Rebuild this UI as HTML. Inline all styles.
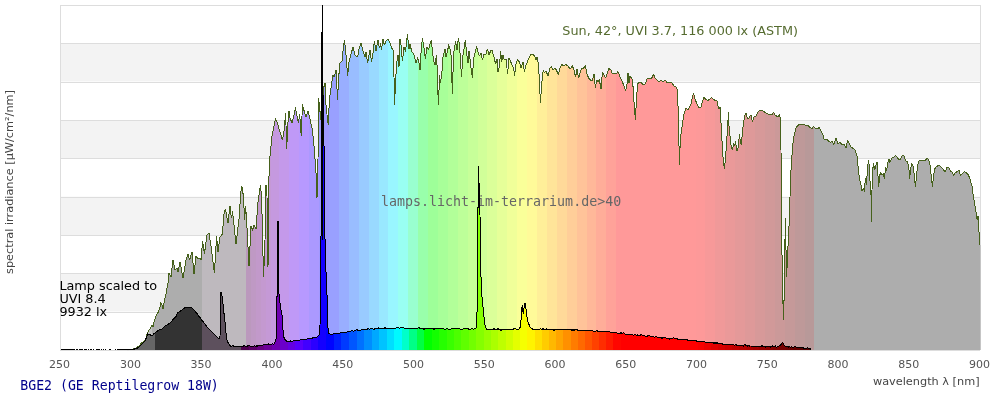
<!DOCTYPE html>
<html><head><meta charset="utf-8"><title>BGE2 (GE Reptilegrow 18W)</title>
<style>html,body{margin:0;padding:0;background:#fff;width:1000px;height:400px;overflow:hidden;}svg{display:block;will-change:transform;}</style></head>
<body>
<svg width="1000" height="400" viewBox="0 0 1000 400">
<rect x="60" y="5.00" width="920" height="38.33" fill="#ffffff"/>
<rect x="60" y="43.33" width="920" height="38.33" fill="#f3f3f3"/>
<rect x="60" y="81.67" width="920" height="38.33" fill="#ffffff"/>
<rect x="60" y="120.00" width="920" height="38.33" fill="#f3f3f3"/>
<rect x="60" y="158.33" width="920" height="38.33" fill="#ffffff"/>
<rect x="60" y="196.67" width="920" height="38.33" fill="#f3f3f3"/>
<rect x="60" y="235.00" width="920" height="38.33" fill="#ffffff"/>
<rect x="60" y="273.33" width="920" height="38.33" fill="#f3f3f3"/>
<rect x="60" y="311.67" width="920" height="38.33" fill="#ffffff"/>
<line x1="60" y1="5.5" x2="980" y2="5.5" stroke="#dddddd" stroke-width="1"/>
<line x1="60" y1="43.5" x2="980" y2="43.5" stroke="#dddddd" stroke-width="1"/>
<line x1="60" y1="82.5" x2="980" y2="82.5" stroke="#dddddd" stroke-width="1"/>
<line x1="60" y1="120.5" x2="980" y2="120.5" stroke="#dddddd" stroke-width="1"/>
<line x1="60" y1="158.5" x2="980" y2="158.5" stroke="#dddddd" stroke-width="1"/>
<line x1="60" y1="197.5" x2="980" y2="197.5" stroke="#dddddd" stroke-width="1"/>
<line x1="60" y1="235.5" x2="980" y2="235.5" stroke="#dddddd" stroke-width="1"/>
<line x1="60" y1="273.5" x2="980" y2="273.5" stroke="#dddddd" stroke-width="1"/>
<line x1="60" y1="312.5" x2="980" y2="312.5" stroke="#dddddd" stroke-width="1"/>
<line x1="60" y1="350.5" x2="980" y2="350.5" stroke="#dddddd" stroke-width="1"/>
<line x1="60.5" y1="5" x2="60.5" y2="350" stroke="#dddddd"/>
<line x1="980.5" y1="5" x2="980.5" y2="350" stroke="#dddddd"/>
<defs>
<clipPath id="cs"><polygon points="131.0,350.0 131.0,349.5 136.0,348.0 140.0,345.6 141.2,343.0 143.8,341.9 145.6,340.0 146.9,334.4 148.8,330.6 150.6,328.0 151.9,325.0 153.0,326.9 153.8,323.0 155.0,318.8 156.2,315.6 158.0,312.5 160.0,307.5 160.6,302.5 161.9,305.0 163.0,309.0 164.4,301.0 166.0,294.0 168.0,283.0 169.0,273.0 171.0,277.0 173.0,260.0 175.0,270.0 177.0,268.0 178.0,272.0 180.0,262.0 183.0,278.0 186.0,260.0 188.0,254.0 189.6,260.0 192.0,252.0 194.0,274.0 196.0,256.0 198.0,259.0 200.0,258.0 201.0,260.0 202.6,241.0 204.4,254.0 207.0,235.0 209.0,233.0 211.0,246.0 214.4,273.0 216.6,236.0 218.0,252.0 220.0,237.0 222.4,234.0 224.0,214.0 225.4,209.0 228.0,223.0 230.0,206.0 231.4,218.0 232.6,212.0 236.0,244.0 239.0,219.0 240.4,198.0 241.4,186.0 242.6,189.0 243.6,200.0 244.6,220.0 245.6,206.0 247.0,228.0 249.0,266.0 251.0,226.0 252.6,230.0 254.0,225.0 256.0,229.0 258.0,202.0 259.4,192.0 260.4,185.0 261.6,196.0 262.6,240.0 263.6,277.0 265.0,240.0 266.0,185.0 267.0,196.0 268.0,267.0 269.0,176.0 270.0,156.0 272.0,136.0 274.0,126.0 275.5,119.0 276.5,121.0 278.0,125.0 280.0,132.0 281.0,135.0 282.4,140.0 283.5,135.0 284.5,127.0 285.5,114.0 286.0,125.0 286.6,149.0 287.4,135.0 288.2,118.0 289.0,111.0 290.0,118.0 292.0,123.0 294.0,115.0 295.5,108.0 297.0,116.0 298.5,123.0 299.5,115.0 300.5,123.0 301.2,136.0 301.8,120.0 302.5,105.0 304.4,112.0 306.0,117.0 308.0,111.0 310.0,119.0 312.4,130.0 314.4,150.0 316.0,173.0 317.0,198.0 318.0,160.0 318.6,98.0 319.6,108.0 321.0,120.0 322.0,112.0 323.6,88.0 325.0,83.0 326.0,105.0 327.5,119.0 328.2,125.0 329.0,108.0 330.0,95.0 331.0,88.0 333.0,75.0 334.4,77.0 336.0,70.0 337.6,100.0 338.4,80.0 340.0,63.0 342.0,61.0 343.0,51.0 344.4,40.6 345.6,49.0 347.6,76.0 349.0,62.0 351.0,54.0 353.0,47.0 355.0,55.0 357.6,57.0 359.4,47.0 361.0,43.4 363.0,51.0 365.0,57.0 366.0,52.0 367.6,63.0 369.0,55.0 370.0,50.0 371.6,62.0 373.0,53.0 374.4,41.0 376.0,51.0 378.0,40.0 379.4,48.0 380.6,44.0 381.4,50.0 383.0,39.4 384.4,45.0 386.0,41.0 388.0,39.0 390.0,43.0 391.6,48.0 393.0,50.0 394.0,77.0 394.6,105.0 395.6,79.0 397.0,61.0 398.0,55.0 399.0,67.0 400.0,39.0 401.0,45.0 402.4,61.0 404.0,47.0 405.6,51.0 407.4,34.0 409.0,49.0 410.0,44.0 411.6,51.0 414.0,55.0 416.0,63.0 417.6,58.0 419.0,63.0 420.0,70.0 421.0,53.0 422.4,38.0 424.0,48.0 425.4,59.0 427.0,47.0 428.4,50.0 430.0,44.0 431.2,40.0 432.4,51.0 433.6,61.0 435.0,65.0 436.4,55.0 437.4,71.0 438.0,95.0 438.6,105.0 439.4,75.0 440.6,83.0 442.0,71.0 443.0,57.0 445.0,49.0 446.0,57.0 447.6,51.0 448.6,45.0 450.0,49.0 451.0,55.0 452.4,94.0 453.2,65.0 454.0,51.0 455.6,42.0 457.0,50.0 458.4,38.0 459.6,45.0 460.6,63.0 461.6,77.0 462.6,57.0 464.0,49.0 465.4,40.0 466.4,51.0 468.0,63.0 469.0,51.0 470.0,59.0 471.0,68.0 472.4,78.0 473.6,59.0 475.0,53.0 476.6,47.0 478.0,52.0 479.4,56.0 481.0,53.0 482.4,60.0 484.0,54.0 485.6,55.0 487.4,49.0 489.0,55.0 490.6,51.0 492.0,50.0 494.0,57.0 495.6,64.0 497.0,59.0 498.0,72.0 499.4,67.0 500.6,51.0 501.6,62.0 503.0,55.0 504.4,60.0 506.0,59.0 507.6,74.0 509.0,58.0 510.4,61.0 512.0,65.0 513.6,68.0 514.6,76.0 516.0,64.0 517.6,59.4 519.4,62.0 521.0,68.0 523.0,62.0 524.4,72.0 526.0,65.0 529.0,58.0 531.0,54.0 533.0,54.0 535.0,57.0 536.0,60.0 537.0,57.0 538.4,64.0 539.4,80.0 540.4,103.0 541.4,88.0 542.4,76.0 543.4,70.0 544.4,73.0 546.0,71.0 548.0,76.0 550.0,68.0 551.6,67.0 553.0,70.0 555.0,68.0 556.4,70.0 558.4,75.0 560.0,68.0 561.6,64.4 563.6,66.0 565.6,64.4 568.0,66.0 570.0,69.0 572.4,66.0 574.0,70.0 575.6,77.0 577.0,69.0 578.6,78.0 580.0,73.0 581.6,68.0 583.6,68.0 585.4,66.0 587.0,74.0 588.6,78.0 590.6,80.0 592.4,81.0 594.0,74.0 595.4,88.0 596.6,80.0 598.0,82.0 599.4,80.0 601.0,89.0 602.4,72.0 604.0,75.0 605.6,78.0 607.0,74.0 609.0,68.6 611.0,70.0 612.4,74.0 614.0,73.0 616.0,74.0 618.0,71.6 620.0,77.0 622.0,81.0 624.0,86.0 625.6,91.0 627.0,84.0 628.0,73.0 629.0,83.0 630.0,76.0 631.4,78.0 632.6,80.0 633.6,96.0 634.4,108.0 635.4,120.0 636.4,100.0 637.6,84.0 639.0,82.4 641.0,82.0 643.0,85.0 645.0,84.4 647.0,79.0 649.0,78.0 651.0,79.0 652.4,77.0 653.4,74.0 655.0,78.0 657.0,80.0 659.0,82.0 661.0,80.0 663.0,82.0 665.0,80.0 667.0,82.4 670.0,82.4 672.0,83.0 674.0,86.0 676.0,87.0 677.4,90.0 678.0,106.0 678.6,120.0 679.0,146.0 679.6,165.0 680.0,148.0 681.0,134.0 682.4,124.0 684.0,114.0 686.0,108.0 687.6,110.0 689.6,107.0 691.0,104.0 692.4,97.0 693.6,93.6 695.0,99.0 697.0,104.0 699.0,107.6 701.0,107.0 702.4,102.0 704.0,97.6 706.0,99.6 708.0,100.4 710.0,99.0 711.6,97.4 713.0,99.0 715.0,100.4 717.0,101.0 718.0,106.0 719.0,109.0 720.0,107.0 720.6,116.0 721.4,130.0 722.4,148.0 723.4,162.0 724.4,169.0 725.4,160.0 726.4,146.0 727.4,130.0 728.0,120.0 728.4,112.0 729.0,126.0 730.0,136.0 731.0,145.0 732.4,150.0 733.6,144.0 734.6,146.0 735.6,142.0 737.0,151.0 738.4,147.0 739.4,134.0 740.4,142.0 741.4,145.0 742.4,132.0 743.6,122.0 745.0,115.0 746.0,113.0 747.0,117.0 748.4,119.0 750.0,116.0 751.0,115.0 752.4,122.0 754.0,117.0 756.0,116.0 758.0,112.0 760.0,110.0 762.0,110.4 764.0,111.6 766.0,113.0 768.0,114.0 770.0,115.0 772.0,114.4 773.6,112.4 775.0,115.0 776.4,116.0 778.0,117.0 779.4,114.4 780.4,118.0 781.0,150.0 781.3,196.0 781.5,254.0 782.6,256.0 782.8,295.0 783.4,320.0 784.2,295.0 784.8,250.0 785.4,218.0 786.0,250.0 786.8,277.0 787.3,256.0 787.5,254.0 788.8,233.0 789.5,208.0 790.3,190.0 791.0,170.0 792.4,150.0 793.4,138.0 795.0,132.0 796.4,127.0 798.4,125.0 801.0,124.0 804.0,124.4 806.0,126.0 808.0,125.6 810.0,127.6 812.0,128.4 813.6,126.4 815.0,128.0 817.0,129.0 819.0,127.6 821.0,131.0 823.0,135.0 824.4,140.0 826.4,139.0 828.4,141.0 830.4,142.4 832.4,141.6 834.0,144.4 836.0,137.6 838.0,143.6 840.0,142.4 842.0,144.4 844.0,144.0 846.0,147.6 847.6,140.4 849.4,143.6 851.0,147.0 853.0,148.4 855.0,150.0 857.0,156.0 858.0,166.0 859.4,178.0 861.0,185.0 862.0,191.0 863.4,188.0 864.4,192.0 865.4,178.0 866.4,185.0 867.4,170.0 868.4,160.0 869.4,166.0 870.4,190.0 871.2,196.0 872.0,190.0 872.6,170.0 873.6,164.0 874.6,170.0 875.6,167.0 877.0,161.6 878.0,176.0 878.6,187.0 879.6,176.0 880.6,172.4 882.0,175.0 883.6,174.0 884.4,179.0 885.6,167.0 886.6,171.0 888.0,162.0 889.0,159.0 890.0,162.4 892.0,158.0 894.0,157.0 895.6,155.6 897.6,158.0 899.6,160.0 901.0,158.0 902.4,155.6 904.0,155.6 905.6,161.0 907.6,162.0 909.0,170.0 909.6,179.0 910.6,169.0 911.6,164.0 913.0,166.0 914.0,173.0 915.4,187.0 916.4,178.0 917.4,166.0 919.0,161.0 921.0,160.4 923.0,161.0 925.0,160.4 927.0,158.6 928.4,159.0 930.0,165.0 931.0,174.0 932.4,187.0 933.6,176.0 934.6,169.0 936.0,167.0 938.0,165.6 940.0,166.0 942.0,168.0 943.6,170.0 945.0,172.0 947.0,167.6 949.0,168.0 950.4,171.0 952.0,172.0 953.6,175.6 955.0,173.0 957.0,171.6 959.0,170.0 960.4,175.6 962.0,174.0 964.4,171.4 966.4,173.0 968.4,175.0 970.0,179.0 972.0,186.0 973.6,198.0 975.0,206.0 976.0,211.6 977.2,220.0 978.0,216.0 978.9,229.6 979.8,245.0 980.5,245.0 980.5,350.0"/></clipPath>
<clipPath id="cl"><polygon points="120.0,350.0 120.0,349.5 121.0,349.6 122.0,349.5 123.0,348.9 124.0,349.6 125.0,349.5 126.0,349.0 127.0,349.4 128.0,350.2 129.0,349.3 130.0,349.5 131.0,349.5 132.0,349.5 133.0,349.3 134.0,350.0 135.0,348.0 136.0,348.5 137.0,348.5 140.0,346.0 145.0,341.0 147.0,336.0 147.5,334.0 149.4,334.4 152.0,336.0 153.8,333.8 156.2,332.0 158.8,330.0 160.0,329.2 161.2,329.2 162.5,328.8 165.0,326.2 167.0,325.0 170.0,323.0 173.8,318.8 176.2,316.2 177.5,313.0 181.2,310.6 184.4,308.0 185.4,307.1 186.5,307.5 187.5,307.2 190.0,307.5 192.0,308.0 195.0,311.0 198.0,315.0 204.0,323.0 208.0,328.0 212.0,332.0 216.0,336.0 219.0,339.0 220.0,336.0 220.6,310.0 221.0,292.0 222.4,298.0 223.6,310.0 225.0,322.0 226.0,333.0 227.0,340.0 228.4,343.5 230.0,345.6 231.0,346.3 232.0,345.9 233.0,345.5 234.0,346.7 235.0,346.6 236.0,346.8 237.0,347.0 238.0,346.7 239.0,346.7 240.0,346.0 241.0,346.6 242.0,346.6 243.0,346.5 244.0,345.4 245.0,346.0 246.0,346.4 247.0,346.3 248.0,345.7 249.0,345.5 250.0,346.1 251.0,346.1 252.0,346.0 253.0,346.6 254.0,345.9 255.0,345.8 256.0,346.5 257.0,345.7 258.0,346.2 259.0,344.8 260.0,345.5 261.0,345.4 262.0,345.3 263.0,345.2 264.0,344.6 265.0,344.9 266.0,344.3 267.0,344.6 268.0,343.8 269.0,344.2 270.0,344.4 271.0,345.1 272.0,343.7 273.0,344.1 274.0,344.0 275.8,341.0 276.5,334.0 276.5,296.0 277.5,296.0 277.5,221.0 278.5,221.0 278.5,288.0 279.5,300.0 281.0,310.0 282.5,317.0 283.0,330.0 283.6,336.0 284.4,339.0 287.0,341.6 288.0,341.5 289.0,341.4 290.0,341.3 291.0,340.7 292.0,341.9 293.0,341.0 294.0,340.9 295.0,340.5 296.0,340.3 297.0,340.9 298.0,340.3 299.0,340.5 300.0,340.0 301.0,339.9 302.0,339.7 303.0,339.6 304.0,339.4 305.0,339.3 306.0,339.1 307.0,339.0 308.0,337.9 309.0,338.7 310.0,338.6 311.0,338.4 312.0,338.6 313.0,337.4 314.0,338.0 315.0,337.6 316.0,337.2 317.0,337.0 319.0,335.0 320.0,325.0 320.4,300.0 320.6,267.0 320.9,245.0 321.5,200.0 321.5,32.0 322.5,32.0 322.5,5.5 322.5,90.0 323.5,100.0 323.9,130.0 324.4,200.0 325.1,245.0 325.8,267.0 326.8,290.0 327.6,310.0 328.0,328.0 329.0,333.6 331.0,334.6 332.0,334.5 333.0,334.1 334.0,333.8 335.0,334.0 336.0,332.8 337.0,333.6 338.0,333.1 339.0,333.5 340.0,333.0 341.0,331.9 342.0,332.7 343.0,333.0 344.0,332.3 345.0,332.5 346.0,332.2 347.0,332.0 348.0,331.9 349.0,331.7 350.0,331.6 351.0,330.8 352.0,330.7 353.0,331.1 354.0,331.0 355.0,330.8 356.0,330.2 357.0,329.6 358.0,330.3 359.0,330.2 360.0,330.0 361.0,330.1 362.0,329.8 363.0,329.7 364.0,329.6 365.0,329.5 366.0,329.4 367.0,329.3 368.0,328.6 369.0,329.1 370.0,329.0 371.0,328.6 372.0,328.1 373.0,328.8 374.0,329.6 375.0,328.7 376.0,328.6 377.0,328.8 378.0,328.3 379.0,327.8 380.0,328.4 381.0,328.4 382.0,328.4 383.0,328.9 384.0,328.3 385.0,327.6 386.0,328.3 387.0,328.3 388.0,328.2 389.0,328.4 390.0,328.2 391.0,328.2 392.0,328.9 393.0,328.1 394.0,328.5 395.0,328.1 396.0,328.1 397.0,327.9 398.0,327.0 399.0,328.0 400.0,328.0 401.0,327.2 402.0,328.0 403.0,327.1 404.0,328.1 405.0,328.1 406.0,328.7 407.0,328.2 408.0,328.3 409.0,328.3 410.0,328.4 411.0,328.4 412.0,328.4 413.0,329.2 414.0,328.5 415.0,328.2 416.0,328.3 417.0,328.5 418.0,328.1 419.0,327.6 420.0,328.6 421.0,329.0 422.0,328.6 423.0,328.6 424.0,329.4 425.0,328.7 426.0,328.7 427.0,328.7 428.0,328.2 429.0,328.7 430.0,328.7 431.0,328.2 432.0,328.7 433.0,328.7 434.0,329.2 435.0,328.8 436.0,328.8 437.0,328.2 438.0,328.5 439.0,328.8 440.0,328.8 441.0,328.8 442.0,328.8 443.0,328.8 444.0,328.8 445.0,329.4 446.0,328.9 447.0,328.9 448.0,328.9 449.0,329.4 450.0,329.7 451.0,328.9 452.0,328.9 453.0,328.9 454.0,328.3 455.0,328.9 456.0,329.0 457.0,328.8 458.0,329.0 459.0,328.9 460.0,329.0 461.0,329.0 462.0,329.0 463.0,329.0 464.0,328.2 465.0,329.0 466.0,328.0 467.0,329.0 468.0,328.0 469.0,329.4 470.0,329.0 471.0,329.0 472.0,328.5 473.0,329.0 474.0,329.0 476.0,328.6 476.6,318.0 477.5,305.0 477.5,207.0 478.5,207.0 478.5,166.0 478.5,183.0 479.5,183.0 479.5,207.0 480.0,215.0 480.4,256.0 481.1,280.0 481.9,296.0 482.8,305.0 483.9,316.0 485.4,327.5 487.0,329.4 488.0,329.6 489.0,330.1 490.0,328.8 491.0,329.5 492.0,330.0 493.0,329.5 494.0,328.4 495.0,329.5 496.0,329.5 497.0,329.3 498.0,328.7 499.0,329.4 500.0,329.6 501.0,330.4 502.0,329.6 503.0,329.4 504.0,329.6 505.0,329.6 506.0,329.6 507.0,329.5 508.0,329.6 509.0,329.7 510.0,329.6 511.1,329.5 512.1,329.5 513.2,329.4 514.3,328.4 515.3,328.3 516.4,329.5 517.5,329.1 518.5,329.1 519.6,329.0 520.4,326.0 521.0,320.0 521.6,310.0 522.4,305.0 523.2,314.0 524.0,308.0 525.0,303.0 525.6,303.6 526.4,314.0 528.0,322.0 530.0,327.0 533.0,329.4 534.0,329.3 535.0,329.4 536.0,329.3 537.0,329.4 538.0,329.1 539.0,330.1 540.0,328.9 541.0,329.1 542.0,329.2 543.0,328.7 544.0,329.5 545.0,329.0 546.0,329.6 547.0,328.7 548.0,330.0 549.0,329.6 550.0,329.6 551.0,330.1 552.0,329.6 553.0,329.6 554.0,330.4 555.0,329.7 556.0,329.7 557.0,330.0 558.0,329.6 559.0,328.9 560.0,329.5 561.0,328.8 562.0,329.8 563.0,329.8 564.0,329.5 565.0,329.3 566.0,329.8 567.0,329.4 568.0,328.8 569.0,329.9 570.0,330.0 571.0,329.0 572.0,330.4 573.0,329.7 574.0,330.6 575.0,329.6 576.0,329.9 577.0,329.8 578.0,330.3 579.0,330.6 580.0,330.4 581.0,330.4 582.0,330.5 583.0,330.5 584.0,330.6 585.0,330.6 586.0,330.7 587.0,331.0 588.0,330.7 589.0,330.0 590.0,330.8 591.0,330.0 592.0,330.9 593.0,331.0 594.0,331.0 595.0,331.1 596.0,331.1 597.0,330.6 598.0,331.3 599.0,331.4 600.0,331.4 601.0,331.5 602.0,331.6 603.0,331.6 604.0,331.7 605.0,331.8 606.0,331.8 607.0,331.5 608.0,332.0 609.0,331.2 610.0,332.2 611.0,332.4 612.0,332.5 613.0,332.6 614.0,332.7 615.0,332.8 616.0,332.9 617.0,333.0 618.0,333.2 619.0,333.3 620.0,333.4 621.0,332.7 622.0,333.5 623.0,332.9 624.0,333.0 625.0,333.9 626.0,334.4 627.0,334.8 628.0,334.3 629.0,334.4 630.0,334.5 631.0,334.4 632.0,333.9 633.0,335.3 634.0,334.9 635.0,334.3 636.0,335.2 637.0,335.3 638.0,334.8 639.0,335.9 640.0,335.6 641.0,334.7 642.0,334.7 643.0,335.9 644.0,335.5 645.0,336.1 646.0,336.2 647.0,336.5 648.0,335.4 649.0,335.9 650.0,336.0 651.0,336.7 652.0,335.9 653.0,336.9 654.0,337.0 655.0,337.1 656.0,336.2 657.0,337.3 658.0,336.9 659.0,337.8 660.0,337.6 661.0,337.3 662.0,338.5 663.0,337.0 664.0,338.0 665.0,337.0 666.0,338.1 667.0,338.2 668.0,337.9 669.0,339.3 670.0,338.5 671.0,339.0 672.0,338.6 673.0,337.9 674.0,337.8 675.0,338.7 676.0,339.0 677.0,338.7 678.0,339.2 679.0,339.3 680.0,339.4 681.0,339.5 682.0,339.6 683.0,339.7 684.0,339.8 685.0,339.9 686.0,340.0 687.0,339.3 688.0,340.9 689.0,340.3 690.0,340.3 691.0,340.5 692.0,340.1 693.0,341.0 694.0,340.8 695.0,340.9 696.0,340.3 697.0,341.6 698.0,341.3 699.0,341.1 700.0,341.4 701.0,341.5 702.0,341.8 703.0,341.7 704.0,341.8 705.0,342.1 706.0,342.0 707.0,342.3 708.0,342.0 709.0,342.4 710.0,342.5 711.0,342.6 712.0,343.1 713.0,342.8 714.0,343.2 715.0,342.7 716.0,343.2 717.0,342.7 718.0,343.4 719.0,343.5 720.0,343.6 721.0,343.4 722.0,343.4 723.0,344.7 724.0,344.0 725.0,344.1 726.0,344.2 727.0,344.3 728.0,344.4 729.0,345.0 730.0,344.2 731.0,344.7 732.0,344.8 733.0,344.9 734.0,345.0 735.0,345.0 736.0,344.6 737.0,345.3 738.0,345.4 739.0,345.5 740.0,345.6 741.1,345.7 742.1,345.7 743.2,346.2 744.2,344.9 745.3,344.8 746.3,345.9 747.4,346.1 748.5,345.3 749.5,346.1 750.6,346.0 751.6,346.1 752.7,346.2 753.8,346.2 754.8,346.5 755.8,346.3 756.8,346.0 757.9,347.2 758.9,346.4 759.9,346.4 761.0,346.7 762.0,345.4 763.0,346.5 764.1,346.6 765.1,347.2 766.1,346.8 767.2,346.6 768.2,346.6 769.2,346.6 770.3,347.1 771.3,346.7 772.3,345.9 773.4,346.8 774.4,346.8 775.4,345.8 776.5,347.6 777.5,346.9 780.6,345.0 782.5,342.2 784.4,345.6 786.2,347.0 787.3,346.8 788.3,347.1 789.3,346.1 790.3,347.4 791.3,346.8 792.3,347.3 793.4,347.4 794.4,347.0 795.4,346.4 796.4,347.5 797.4,347.2 798.4,347.7 799.5,347.7 800.5,347.8 801.5,347.8 802.5,347.9 803.5,348.0 804.5,348.3 805.5,348.2 806.5,348.3 807.6,347.7 808.6,348.9 809.6,348.8 810.6,348.8 811.0,350.0 811.0,350.0"/></clipPath>
</defs>
<g clip-path="url(#cs)" shape-rendering="crispEdges">
<rect x="102.5" y="0" width="5.6" height="351" fill="#c2c2c2"/>
<rect x="107.4" y="0" width="5.6" height="351" fill="#c2c2c2"/>
<rect x="112.4" y="0" width="5.6" height="351" fill="#c2c2c2"/>
<rect x="117.3" y="0" width="5.6" height="351" fill="#c2c2c2"/>
<rect x="122.3" y="0" width="5.6" height="351" fill="#c2c2c2"/>
<rect x="127.2" y="0" width="5.6" height="351" fill="#c2c2c2"/>
<rect x="132.2" y="0" width="5.6" height="351" fill="#c2c2c2"/>
<rect x="137.1" y="0" width="5.6" height="351" fill="#c2c2c2"/>
<rect x="142.1" y="0" width="5.6" height="351" fill="#c2c2c2"/>
<rect x="147.0" y="0" width="5.6" height="351" fill="#c2c2c2"/>
<rect x="152.0" y="0" width="5.6" height="351" fill="#adadad"/>
<rect x="157.0" y="0" width="5.6" height="351" fill="#adadad"/>
<rect x="161.9" y="0" width="5.6" height="351" fill="#adadad"/>
<rect x="166.9" y="0" width="5.6" height="351" fill="#adadad"/>
<rect x="171.8" y="0" width="5.6" height="351" fill="#adadad"/>
<rect x="176.8" y="0" width="5.6" height="351" fill="#adadad"/>
<rect x="181.7" y="0" width="5.6" height="351" fill="#adadad"/>
<rect x="186.7" y="0" width="5.6" height="351" fill="#adadad"/>
<rect x="191.6" y="0" width="5.6" height="351" fill="#adadad"/>
<rect x="196.6" y="0" width="5.6" height="351" fill="#adadad"/>
<rect x="201.5" y="0" width="5.6" height="351" fill="#beb9be"/>
<rect x="206.5" y="0" width="5.6" height="351" fill="#beb9be"/>
<rect x="211.4" y="0" width="5.6" height="351" fill="#beb9be"/>
<rect x="216.4" y="0" width="5.6" height="351" fill="#beb9be"/>
<rect x="221.4" y="0" width="5.6" height="351" fill="#beb9be"/>
<rect x="226.3" y="0" width="5.6" height="351" fill="#beb9be"/>
<rect x="231.3" y="0" width="5.6" height="351" fill="#beb9be"/>
<rect x="236.2" y="0" width="5.6" height="351" fill="#beb9be"/>
<rect x="241.2" y="0" width="5.6" height="351" fill="#beb9be"/>
<rect x="246.1" y="0" width="5.6" height="351" fill="#bb99bd"/>
<rect x="251.1" y="0" width="5.6" height="351" fill="#bf99c4"/>
<rect x="256.0" y="0" width="5.6" height="351" fill="#c299ca"/>
<rect x="261.0" y="0" width="5.6" height="351" fill="#c499d0"/>
<rect x="265.9" y="0" width="5.6" height="351" fill="#c599d6"/>
<rect x="270.9" y="0" width="9.1" height="351" fill="#c599df"/>
<rect x="279.4" y="0" width="10.5" height="351" fill="#c499ea"/>
<rect x="289.3" y="0" width="10.5" height="351" fill="#bf99f7"/>
<rect x="299.2" y="0" width="10.5" height="351" fill="#b799ff"/>
<rect x="309.1" y="0" width="10.5" height="351" fill="#ab99ff"/>
<rect x="319.0" y="0" width="10.5" height="351" fill="#9f99ff"/>
<rect x="328.9" y="0" width="10.5" height="351" fill="#99a0ff"/>
<rect x="338.8" y="0" width="10.5" height="351" fill="#99aeff"/>
<rect x="348.7" y="0" width="10.5" height="351" fill="#99bdff"/>
<rect x="358.6" y="0" width="10.5" height="351" fill="#99cbff"/>
<rect x="368.6" y="0" width="10.5" height="351" fill="#99d9ff"/>
<rect x="378.5" y="0" width="10.5" height="351" fill="#99e8ff"/>
<rect x="388.4" y="0" width="10.5" height="351" fill="#99f6ff"/>
<rect x="398.3" y="0" width="10.5" height="351" fill="#99fff2"/>
<rect x="408.2" y="0" width="10.5" height="351" fill="#99ffcf"/>
<rect x="418.1" y="0" width="10.5" height="351" fill="#99ffab"/>
<rect x="428.0" y="0" width="10.5" height="351" fill="#9eff99"/>
<rect x="437.9" y="0" width="10.5" height="351" fill="#a8ff99"/>
<rect x="447.8" y="0" width="10.5" height="351" fill="#b2ff99"/>
<rect x="457.7" y="0" width="10.5" height="351" fill="#bdff99"/>
<rect x="467.6" y="0" width="10.5" height="351" fill="#c7ff99"/>
<rect x="477.5" y="0" width="10.5" height="351" fill="#d1ff99"/>
<rect x="487.4" y="0" width="10.5" height="351" fill="#dbff99"/>
<rect x="497.4" y="0" width="10.5" height="351" fill="#e6ff99"/>
<rect x="507.3" y="0" width="10.5" height="351" fill="#f0ff99"/>
<rect x="517.2" y="0" width="10.5" height="351" fill="#faff99"/>
<rect x="527.1" y="0" width="10.5" height="351" fill="#fffa99"/>
<rect x="537.0" y="0" width="10.5" height="351" fill="#ffef99"/>
<rect x="546.9" y="0" width="10.5" height="351" fill="#ffe499"/>
<rect x="556.8" y="0" width="10.5" height="351" fill="#ffd999"/>
<rect x="566.7" y="0" width="10.5" height="351" fill="#ffce99"/>
<rect x="576.6" y="0" width="10.5" height="351" fill="#ffc399"/>
<rect x="586.5" y="0" width="10.5" height="351" fill="#ffb899"/>
<rect x="596.4" y="0" width="10.5" height="351" fill="#ffad99"/>
<rect x="606.3" y="0" width="10.5" height="351" fill="#ffa299"/>
<rect x="616.2" y="0" width="10.5" height="351" fill="#ff9999"/>
<rect x="626.2" y="0" width="10.5" height="351" fill="#ff9999"/>
<rect x="636.1" y="0" width="10.5" height="351" fill="#ff9999"/>
<rect x="646.0" y="0" width="10.5" height="351" fill="#ff9999"/>
<rect x="655.9" y="0" width="10.5" height="351" fill="#ff9999"/>
<rect x="665.8" y="0" width="10.5" height="351" fill="#ff9999"/>
<rect x="675.7" y="0" width="10.5" height="351" fill="#ff9999"/>
<rect x="685.6" y="0" width="10.5" height="351" fill="#ff9999"/>
<rect x="695.5" y="0" width="10.5" height="351" fill="#fd9999"/>
<rect x="705.4" y="0" width="10.5" height="351" fill="#f79999"/>
<rect x="715.3" y="0" width="10.5" height="351" fill="#f09999"/>
<rect x="725.2" y="0" width="10.5" height="351" fill="#ea9999"/>
<rect x="735.1" y="0" width="10.5" height="351" fill="#e49999"/>
<rect x="745.0" y="0" width="10.5" height="351" fill="#de9999"/>
<rect x="755.0" y="0" width="10.5" height="351" fill="#d79999"/>
<rect x="764.9" y="0" width="10.5" height="351" fill="#d19999"/>
<rect x="774.8" y="0" width="10.5" height="351" fill="#cb9999"/>
<rect x="784.7" y="0" width="10.5" height="351" fill="#c59999"/>
<rect x="794.6" y="0" width="10.5" height="351" fill="#be9999"/>
<rect x="804.5" y="0" width="10.5" height="351" fill="#b89999"/>
<rect x="814.4" y="0" width="10.5" height="351" fill="#adadad"/>
<rect x="824.3" y="0" width="10.5" height="351" fill="#adadad"/>
<rect x="834.2" y="0" width="10.5" height="351" fill="#adadad"/>
<rect x="844.1" y="0" width="10.5" height="351" fill="#adadad"/>
<rect x="854.0" y="0" width="10.5" height="351" fill="#adadad"/>
<rect x="863.9" y="0" width="10.5" height="351" fill="#adadad"/>
<rect x="873.8" y="0" width="10.5" height="351" fill="#adadad"/>
<rect x="883.8" y="0" width="10.5" height="351" fill="#adadad"/>
<rect x="893.7" y="0" width="10.5" height="351" fill="#adadad"/>
<rect x="903.6" y="0" width="10.5" height="351" fill="#adadad"/>
<rect x="913.5" y="0" width="10.5" height="351" fill="#adadad"/>
<rect x="923.4" y="0" width="10.5" height="351" fill="#adadad"/>
<rect x="933.3" y="0" width="10.5" height="351" fill="#adadad"/>
<rect x="943.2" y="0" width="10.5" height="351" fill="#adadad"/>
<rect x="953.1" y="0" width="10.5" height="351" fill="#adadad"/>
<rect x="963.0" y="0" width="10.5" height="351" fill="#adadad"/>
<rect x="972.9" y="0" width="10.5" height="351" fill="#adadad"/>
</g>
<polyline points="131.0,349.5 136.0,348.0 140.0,345.6 141.2,343.0 143.8,341.9 145.6,340.0 146.9,334.4 148.8,330.6 150.6,328.0 151.9,325.0 153.0,326.9 153.8,323.0 155.0,318.8 156.2,315.6 158.0,312.5 160.0,307.5 160.6,302.5 161.9,305.0 163.0,309.0 164.4,301.0 166.0,294.0 168.0,283.0 169.0,273.0 171.0,277.0 173.0,260.0 175.0,270.0 177.0,268.0 178.0,272.0 180.0,262.0 183.0,278.0 186.0,260.0 188.0,254.0 189.6,260.0 192.0,252.0 194.0,274.0 196.0,256.0 198.0,259.0 200.0,258.0 201.0,260.0 202.6,241.0 204.4,254.0 207.0,235.0 209.0,233.0 211.0,246.0 214.4,273.0 216.6,236.0 218.0,252.0 220.0,237.0 222.4,234.0 224.0,214.0 225.4,209.0 228.0,223.0 230.0,206.0 231.4,218.0 232.6,212.0 236.0,244.0 239.0,219.0 240.4,198.0 241.4,186.0 242.6,189.0 243.6,200.0 244.6,220.0 245.6,206.0 247.0,228.0 249.0,266.0 251.0,226.0 252.6,230.0 254.0,225.0 256.0,229.0 258.0,202.0 259.4,192.0 260.4,185.0 261.6,196.0 262.6,240.0 263.6,277.0 265.0,240.0 266.0,185.0 267.0,196.0 268.0,267.0 269.0,176.0 270.0,156.0 272.0,136.0 274.0,126.0 275.5,119.0 276.5,121.0 278.0,125.0 280.0,132.0 281.0,135.0 282.4,140.0 283.5,135.0 284.5,127.0 285.5,114.0 286.0,125.0 286.6,149.0 287.4,135.0 288.2,118.0 289.0,111.0 290.0,118.0 292.0,123.0 294.0,115.0 295.5,108.0 297.0,116.0 298.5,123.0 299.5,115.0 300.5,123.0 301.2,136.0 301.8,120.0 302.5,105.0 304.4,112.0 306.0,117.0 308.0,111.0 310.0,119.0 312.4,130.0 314.4,150.0 316.0,173.0 317.0,198.0 318.0,160.0 318.6,98.0 319.6,108.0 321.0,120.0 322.0,112.0 323.6,88.0 325.0,83.0 326.0,105.0 327.5,119.0 328.2,125.0 329.0,108.0 330.0,95.0 331.0,88.0 333.0,75.0 334.4,77.0 336.0,70.0 337.6,100.0 338.4,80.0 340.0,63.0 342.0,61.0 343.0,51.0 344.4,40.6 345.6,49.0 347.6,76.0 349.0,62.0 351.0,54.0 353.0,47.0 355.0,55.0 357.6,57.0 359.4,47.0 361.0,43.4 363.0,51.0 365.0,57.0 366.0,52.0 367.6,63.0 369.0,55.0 370.0,50.0 371.6,62.0 373.0,53.0 374.4,41.0 376.0,51.0 378.0,40.0 379.4,48.0 380.6,44.0 381.4,50.0 383.0,39.4 384.4,45.0 386.0,41.0 388.0,39.0 390.0,43.0 391.6,48.0 393.0,50.0 394.0,77.0 394.6,105.0 395.6,79.0 397.0,61.0 398.0,55.0 399.0,67.0 400.0,39.0 401.0,45.0 402.4,61.0 404.0,47.0 405.6,51.0 407.4,34.0 409.0,49.0 410.0,44.0 411.6,51.0 414.0,55.0 416.0,63.0 417.6,58.0 419.0,63.0 420.0,70.0 421.0,53.0 422.4,38.0 424.0,48.0 425.4,59.0 427.0,47.0 428.4,50.0 430.0,44.0 431.2,40.0 432.4,51.0 433.6,61.0 435.0,65.0 436.4,55.0 437.4,71.0 438.0,95.0 438.6,105.0 439.4,75.0 440.6,83.0 442.0,71.0 443.0,57.0 445.0,49.0 446.0,57.0 447.6,51.0 448.6,45.0 450.0,49.0 451.0,55.0 452.4,94.0 453.2,65.0 454.0,51.0 455.6,42.0 457.0,50.0 458.4,38.0 459.6,45.0 460.6,63.0 461.6,77.0 462.6,57.0 464.0,49.0 465.4,40.0 466.4,51.0 468.0,63.0 469.0,51.0 470.0,59.0 471.0,68.0 472.4,78.0 473.6,59.0 475.0,53.0 476.6,47.0 478.0,52.0 479.4,56.0 481.0,53.0 482.4,60.0 484.0,54.0 485.6,55.0 487.4,49.0 489.0,55.0 490.6,51.0 492.0,50.0 494.0,57.0 495.6,64.0 497.0,59.0 498.0,72.0 499.4,67.0 500.6,51.0 501.6,62.0 503.0,55.0 504.4,60.0 506.0,59.0 507.6,74.0 509.0,58.0 510.4,61.0 512.0,65.0 513.6,68.0 514.6,76.0 516.0,64.0 517.6,59.4 519.4,62.0 521.0,68.0 523.0,62.0 524.4,72.0 526.0,65.0 529.0,58.0 531.0,54.0 533.0,54.0 535.0,57.0 536.0,60.0 537.0,57.0 538.4,64.0 539.4,80.0 540.4,103.0 541.4,88.0 542.4,76.0 543.4,70.0 544.4,73.0 546.0,71.0 548.0,76.0 550.0,68.0 551.6,67.0 553.0,70.0 555.0,68.0 556.4,70.0 558.4,75.0 560.0,68.0 561.6,64.4 563.6,66.0 565.6,64.4 568.0,66.0 570.0,69.0 572.4,66.0 574.0,70.0 575.6,77.0 577.0,69.0 578.6,78.0 580.0,73.0 581.6,68.0 583.6,68.0 585.4,66.0 587.0,74.0 588.6,78.0 590.6,80.0 592.4,81.0 594.0,74.0 595.4,88.0 596.6,80.0 598.0,82.0 599.4,80.0 601.0,89.0 602.4,72.0 604.0,75.0 605.6,78.0 607.0,74.0 609.0,68.6 611.0,70.0 612.4,74.0 614.0,73.0 616.0,74.0 618.0,71.6 620.0,77.0 622.0,81.0 624.0,86.0 625.6,91.0 627.0,84.0 628.0,73.0 629.0,83.0 630.0,76.0 631.4,78.0 632.6,80.0 633.6,96.0 634.4,108.0 635.4,120.0 636.4,100.0 637.6,84.0 639.0,82.4 641.0,82.0 643.0,85.0 645.0,84.4 647.0,79.0 649.0,78.0 651.0,79.0 652.4,77.0 653.4,74.0 655.0,78.0 657.0,80.0 659.0,82.0 661.0,80.0 663.0,82.0 665.0,80.0 667.0,82.4 670.0,82.4 672.0,83.0 674.0,86.0 676.0,87.0 677.4,90.0 678.0,106.0 678.6,120.0 679.0,146.0 679.6,165.0 680.0,148.0 681.0,134.0 682.4,124.0 684.0,114.0 686.0,108.0 687.6,110.0 689.6,107.0 691.0,104.0 692.4,97.0 693.6,93.6 695.0,99.0 697.0,104.0 699.0,107.6 701.0,107.0 702.4,102.0 704.0,97.6 706.0,99.6 708.0,100.4 710.0,99.0 711.6,97.4 713.0,99.0 715.0,100.4 717.0,101.0 718.0,106.0 719.0,109.0 720.0,107.0 720.6,116.0 721.4,130.0 722.4,148.0 723.4,162.0 724.4,169.0 725.4,160.0 726.4,146.0 727.4,130.0 728.0,120.0 728.4,112.0 729.0,126.0 730.0,136.0 731.0,145.0 732.4,150.0 733.6,144.0 734.6,146.0 735.6,142.0 737.0,151.0 738.4,147.0 739.4,134.0 740.4,142.0 741.4,145.0 742.4,132.0 743.6,122.0 745.0,115.0 746.0,113.0 747.0,117.0 748.4,119.0 750.0,116.0 751.0,115.0 752.4,122.0 754.0,117.0 756.0,116.0 758.0,112.0 760.0,110.0 762.0,110.4 764.0,111.6 766.0,113.0 768.0,114.0 770.0,115.0 772.0,114.4 773.6,112.4 775.0,115.0 776.4,116.0 778.0,117.0 779.4,114.4 780.4,118.0 781.0,150.0 781.3,196.0 781.5,254.0 782.6,256.0 782.8,295.0 783.4,320.0 784.2,295.0 784.8,250.0 785.4,218.0 786.0,250.0 786.8,277.0 787.3,256.0 787.5,254.0 788.8,233.0 789.5,208.0 790.3,190.0 791.0,170.0 792.4,150.0 793.4,138.0 795.0,132.0 796.4,127.0 798.4,125.0 801.0,124.0 804.0,124.4 806.0,126.0 808.0,125.6 810.0,127.6 812.0,128.4 813.6,126.4 815.0,128.0 817.0,129.0 819.0,127.6 821.0,131.0 823.0,135.0 824.4,140.0 826.4,139.0 828.4,141.0 830.4,142.4 832.4,141.6 834.0,144.4 836.0,137.6 838.0,143.6 840.0,142.4 842.0,144.4 844.0,144.0 846.0,147.6 847.6,140.4 849.4,143.6 851.0,147.0 853.0,148.4 855.0,150.0 857.0,156.0 858.0,166.0 859.4,178.0 861.0,185.0 862.0,191.0 863.4,188.0 864.4,192.0 865.4,178.0 866.4,185.0 867.4,170.0 868.4,160.0 869.4,166.0 870.4,190.0 871.2,196.0 872.0,190.0 872.6,170.0 873.6,164.0 874.6,170.0 875.6,167.0 877.0,161.6 878.0,176.0 878.6,187.0 879.6,176.0 880.6,172.4 882.0,175.0 883.6,174.0 884.4,179.0 885.6,167.0 886.6,171.0 888.0,162.0 889.0,159.0 890.0,162.4 892.0,158.0 894.0,157.0 895.6,155.6 897.6,158.0 899.6,160.0 901.0,158.0 902.4,155.6 904.0,155.6 905.6,161.0 907.6,162.0 909.0,170.0 909.6,179.0 910.6,169.0 911.6,164.0 913.0,166.0 914.0,173.0 915.4,187.0 916.4,178.0 917.4,166.0 919.0,161.0 921.0,160.4 923.0,161.0 925.0,160.4 927.0,158.6 928.4,159.0 930.0,165.0 931.0,174.0 932.4,187.0 933.6,176.0 934.6,169.0 936.0,167.0 938.0,165.6 940.0,166.0 942.0,168.0 943.6,170.0 945.0,172.0 947.0,167.6 949.0,168.0 950.4,171.0 952.0,172.0 953.6,175.6 955.0,173.0 957.0,171.6 959.0,170.0 960.4,175.6 962.0,174.0 964.4,171.4 966.4,173.0 968.4,175.0 970.0,179.0 972.0,186.0 973.6,198.0 975.0,206.0 976.0,211.6 977.2,220.0 978.0,216.0 978.9,229.6 979.8,245.0" fill="none" stroke="#46611c" stroke-width="1" stroke-linejoin="round" shape-rendering="crispEdges"/>
<text x="381" y="206.4" font-family="'DejaVu Sans Mono','Liberation Mono',monospace" font-size="13.3" fill="#666666">lamps.licht-im-terrarium.de&gt;40</text>
<g clip-path="url(#cl)" shape-rendering="crispEdges">
<rect x="60.0" y="0" width="95.6" height="351" fill="#666666"/>
<rect x="155.0" y="0" width="47.6" height="351" fill="#333333"/>
<rect x="202.0" y="0" width="39.6" height="351" fill="#5d505d"/>
<rect x="241.0" y="0" width="8.4" height="351" fill="#4f004f"/>
<rect x="248.8" y="0" width="8.4" height="351" fill="#5d0068"/>
<rect x="256.6" y="0" width="8.4" height="351" fill="#680081"/>
<rect x="264.4" y="0" width="8.4" height="351" fill="#6d0099"/>
<rect x="272.1" y="0" width="8.3" height="351" fill="#6f00b1"/>
<rect x="279.9" y="0" width="8.3" height="351" fill="#6b00ca"/>
<rect x="287.6" y="0" width="8.3" height="351" fill="#6400e2"/>
<rect x="295.4" y="0" width="8.3" height="351" fill="#5800fb"/>
<rect x="303.1" y="0" width="8.3" height="351" fill="#4200ff"/>
<rect x="310.7" y="0" width="8.3" height="351" fill="#2b00ff"/>
<rect x="318.4" y="0" width="8.3" height="351" fill="#1400ff"/>
<rect x="326.1" y="0" width="8.2" height="351" fill="#0004ff"/>
<rect x="333.7" y="0" width="8.2" height="351" fill="#001fff"/>
<rect x="341.4" y="0" width="8.2" height="351" fill="#003aff"/>
<rect x="349.0" y="0" width="8.2" height="351" fill="#0056ff"/>
<rect x="356.6" y="0" width="8.2" height="351" fill="#0071ff"/>
<rect x="364.1" y="0" width="8.2" height="351" fill="#008dff"/>
<rect x="371.7" y="0" width="8.2" height="351" fill="#00a8ff"/>
<rect x="379.3" y="0" width="8.1" height="351" fill="#00c3ff"/>
<rect x="386.8" y="0" width="8.1" height="351" fill="#00deff"/>
<rect x="394.3" y="0" width="8.1" height="351" fill="#00f9ff"/>
<rect x="401.9" y="0" width="8.1" height="351" fill="#00ffca"/>
<rect x="409.3" y="0" width="8.1" height="351" fill="#00ff86"/>
<rect x="416.8" y="0" width="8.1" height="351" fill="#00ff43"/>
<rect x="424.3" y="0" width="8.1" height="351" fill="#00ff00"/>
<rect x="431.7" y="0" width="8.0" height="351" fill="#13ff00"/>
<rect x="439.2" y="0" width="8.0" height="351" fill="#26ff00"/>
<rect x="446.6" y="0" width="8.0" height="351" fill="#39ff00"/>
<rect x="454.0" y="0" width="8.0" height="351" fill="#4cff00"/>
<rect x="461.4" y="0" width="8.0" height="351" fill="#5fff00"/>
<rect x="468.8" y="0" width="8.0" height="351" fill="#72ff00"/>
<rect x="476.2" y="0" width="8.0" height="351" fill="#85ff00"/>
<rect x="483.5" y="0" width="7.9" height="351" fill="#98ff00"/>
<rect x="490.8" y="0" width="7.9" height="351" fill="#abff00"/>
<rect x="498.2" y="0" width="7.9" height="351" fill="#beff00"/>
<rect x="505.5" y="0" width="7.9" height="351" fill="#d1ff00"/>
<rect x="512.8" y="0" width="7.9" height="351" fill="#e4ff00"/>
<rect x="520.1" y="0" width="7.9" height="351" fill="#f6ff00"/>
<rect x="527.3" y="0" width="7.9" height="351" fill="#fff400"/>
<rect x="534.6" y="0" width="7.8" height="351" fill="#ffe000"/>
<rect x="541.8" y="0" width="7.8" height="351" fill="#ffcc00"/>
<rect x="549.0" y="0" width="7.8" height="351" fill="#ffb800"/>
<rect x="556.2" y="0" width="7.8" height="351" fill="#ffa400"/>
<rect x="563.4" y="0" width="7.8" height="351" fill="#ff9000"/>
<rect x="570.6" y="0" width="7.8" height="351" fill="#ff7c00"/>
<rect x="577.8" y="0" width="7.8" height="351" fill="#ff6900"/>
<rect x="584.9" y="0" width="7.7" height="351" fill="#ff5500"/>
<rect x="592.1" y="0" width="7.7" height="351" fill="#ff4100"/>
<rect x="599.2" y="0" width="7.7" height="351" fill="#ff2d00"/>
<rect x="606.3" y="0" width="7.7" height="351" fill="#ff1a00"/>
<rect x="613.4" y="0" width="7.7" height="351" fill="#ff0600"/>
<rect x="620.5" y="0" width="7.7" height="351" fill="#ff0000"/>
<rect x="627.6" y="0" width="7.7" height="351" fill="#ff0000"/>
<rect x="634.6" y="0" width="7.6" height="351" fill="#ff0000"/>
<rect x="641.7" y="0" width="7.6" height="351" fill="#ff0000"/>
<rect x="648.7" y="0" width="7.6" height="351" fill="#ff0000"/>
<rect x="655.7" y="0" width="7.6" height="351" fill="#ff0000"/>
<rect x="662.7" y="0" width="7.6" height="351" fill="#ff0000"/>
<rect x="669.7" y="0" width="7.6" height="351" fill="#ff0000"/>
<rect x="676.7" y="0" width="7.6" height="351" fill="#ff0000"/>
<rect x="683.6" y="0" width="7.5" height="351" fill="#ff0000"/>
<rect x="690.6" y="0" width="7.5" height="351" fill="#ff0000"/>
<rect x="697.5" y="0" width="7.5" height="351" fill="#f90000"/>
<rect x="704.4" y="0" width="7.5" height="351" fill="#ee0000"/>
<rect x="711.3" y="0" width="7.5" height="351" fill="#e30000"/>
<rect x="718.2" y="0" width="7.5" height="351" fill="#d80000"/>
<rect x="725.1" y="0" width="7.5" height="351" fill="#cd0000"/>
<rect x="732.0" y="0" width="7.5" height="351" fill="#c20000"/>
<rect x="738.8" y="0" width="7.4" height="351" fill="#b80000"/>
<rect x="745.7" y="0" width="7.4" height="351" fill="#ad0000"/>
<rect x="752.5" y="0" width="7.4" height="351" fill="#a20000"/>
<rect x="759.3" y="0" width="7.4" height="351" fill="#970000"/>
<rect x="766.1" y="0" width="7.4" height="351" fill="#8d0000"/>
<rect x="772.9" y="0" width="7.4" height="351" fill="#820000"/>
<rect x="779.7" y="0" width="7.4" height="351" fill="#770000"/>
<rect x="786.4" y="0" width="7.3" height="351" fill="#6d0000"/>
<rect x="793.2" y="0" width="7.3" height="351" fill="#620000"/>
<rect x="799.9" y="0" width="7.3" height="351" fill="#570000"/>
<rect x="806.6" y="0" width="5.0" height="351" fill="#4f0000"/>
</g>
<polyline points="120.0,349.5 121.0,349.6 122.0,349.5 123.0,348.9 124.0,349.6 125.0,349.5 126.0,349.0 127.0,349.4 128.0,350.2 129.0,349.3 130.0,349.5 131.0,349.5 132.0,349.5 133.0,349.3 134.0,350.0 135.0,348.0 136.0,348.5 137.0,348.5 140.0,346.0 145.0,341.0 147.0,336.0 147.5,334.0 149.4,334.4 152.0,336.0 153.8,333.8 156.2,332.0 158.8,330.0 160.0,329.2 161.2,329.2 162.5,328.8 165.0,326.2 167.0,325.0 170.0,323.0 173.8,318.8 176.2,316.2 177.5,313.0 181.2,310.6 184.4,308.0 185.4,307.1 186.5,307.5 187.5,307.2 190.0,307.5 192.0,308.0 195.0,311.0 198.0,315.0 204.0,323.0 208.0,328.0 212.0,332.0 216.0,336.0 219.0,339.0 220.0,336.0 220.6,310.0 221.0,292.0 222.4,298.0 223.6,310.0 225.0,322.0 226.0,333.0 227.0,340.0 228.4,343.5 230.0,345.6 231.0,346.3 232.0,345.9 233.0,345.5 234.0,346.7 235.0,346.6 236.0,346.8 237.0,347.0 238.0,346.7 239.0,346.7 240.0,346.0 241.0,346.6 242.0,346.6 243.0,346.5 244.0,345.4 245.0,346.0 246.0,346.4 247.0,346.3 248.0,345.7 249.0,345.5 250.0,346.1 251.0,346.1 252.0,346.0 253.0,346.6 254.0,345.9 255.0,345.8 256.0,346.5 257.0,345.7 258.0,346.2 259.0,344.8 260.0,345.5 261.0,345.4 262.0,345.3 263.0,345.2 264.0,344.6 265.0,344.9 266.0,344.3 267.0,344.6 268.0,343.8 269.0,344.2 270.0,344.4 271.0,345.1 272.0,343.7 273.0,344.1 274.0,344.0 275.8,341.0 276.5,334.0 276.5,296.0 277.5,296.0 277.5,221.0 278.5,221.0 278.5,288.0 279.5,300.0 281.0,310.0 282.5,317.0 283.0,330.0 283.6,336.0 284.4,339.0 287.0,341.6 288.0,341.5 289.0,341.4 290.0,341.3 291.0,340.7 292.0,341.9 293.0,341.0 294.0,340.9 295.0,340.5 296.0,340.3 297.0,340.9 298.0,340.3 299.0,340.5 300.0,340.0 301.0,339.9 302.0,339.7 303.0,339.6 304.0,339.4 305.0,339.3 306.0,339.1 307.0,339.0 308.0,337.9 309.0,338.7 310.0,338.6 311.0,338.4 312.0,338.6 313.0,337.4 314.0,338.0 315.0,337.6 316.0,337.2 317.0,337.0 319.0,335.0 320.0,325.0 320.4,300.0 320.6,267.0 320.9,245.0 321.5,200.0 321.5,32.0 322.5,32.0 322.5,5.5 322.5,90.0 323.5,100.0 323.9,130.0 324.4,200.0 325.1,245.0 325.8,267.0 326.8,290.0 327.6,310.0 328.0,328.0 329.0,333.6 331.0,334.6 332.0,334.5 333.0,334.1 334.0,333.8 335.0,334.0 336.0,332.8 337.0,333.6 338.0,333.1 339.0,333.5 340.0,333.0 341.0,331.9 342.0,332.7 343.0,333.0 344.0,332.3 345.0,332.5 346.0,332.2 347.0,332.0 348.0,331.9 349.0,331.7 350.0,331.6 351.0,330.8 352.0,330.7 353.0,331.1 354.0,331.0 355.0,330.8 356.0,330.2 357.0,329.6 358.0,330.3 359.0,330.2 360.0,330.0 361.0,330.1 362.0,329.8 363.0,329.7 364.0,329.6 365.0,329.5 366.0,329.4 367.0,329.3 368.0,328.6 369.0,329.1 370.0,329.0 371.0,328.6 372.0,328.1 373.0,328.8 374.0,329.6 375.0,328.7 376.0,328.6 377.0,328.8 378.0,328.3 379.0,327.8 380.0,328.4 381.0,328.4 382.0,328.4 383.0,328.9 384.0,328.3 385.0,327.6 386.0,328.3 387.0,328.3 388.0,328.2 389.0,328.4 390.0,328.2 391.0,328.2 392.0,328.9 393.0,328.1 394.0,328.5 395.0,328.1 396.0,328.1 397.0,327.9 398.0,327.0 399.0,328.0 400.0,328.0 401.0,327.2 402.0,328.0 403.0,327.1 404.0,328.1 405.0,328.1 406.0,328.7 407.0,328.2 408.0,328.3 409.0,328.3 410.0,328.4 411.0,328.4 412.0,328.4 413.0,329.2 414.0,328.5 415.0,328.2 416.0,328.3 417.0,328.5 418.0,328.1 419.0,327.6 420.0,328.6 421.0,329.0 422.0,328.6 423.0,328.6 424.0,329.4 425.0,328.7 426.0,328.7 427.0,328.7 428.0,328.2 429.0,328.7 430.0,328.7 431.0,328.2 432.0,328.7 433.0,328.7 434.0,329.2 435.0,328.8 436.0,328.8 437.0,328.2 438.0,328.5 439.0,328.8 440.0,328.8 441.0,328.8 442.0,328.8 443.0,328.8 444.0,328.8 445.0,329.4 446.0,328.9 447.0,328.9 448.0,328.9 449.0,329.4 450.0,329.7 451.0,328.9 452.0,328.9 453.0,328.9 454.0,328.3 455.0,328.9 456.0,329.0 457.0,328.8 458.0,329.0 459.0,328.9 460.0,329.0 461.0,329.0 462.0,329.0 463.0,329.0 464.0,328.2 465.0,329.0 466.0,328.0 467.0,329.0 468.0,328.0 469.0,329.4 470.0,329.0 471.0,329.0 472.0,328.5 473.0,329.0 474.0,329.0 476.0,328.6 476.6,318.0 477.5,305.0 477.5,207.0 478.5,207.0 478.5,166.0 478.5,183.0 479.5,183.0 479.5,207.0 480.0,215.0 480.4,256.0 481.1,280.0 481.9,296.0 482.8,305.0 483.9,316.0 485.4,327.5 487.0,329.4 488.0,329.6 489.0,330.1 490.0,328.8 491.0,329.5 492.0,330.0 493.0,329.5 494.0,328.4 495.0,329.5 496.0,329.5 497.0,329.3 498.0,328.7 499.0,329.4 500.0,329.6 501.0,330.4 502.0,329.6 503.0,329.4 504.0,329.6 505.0,329.6 506.0,329.6 507.0,329.5 508.0,329.6 509.0,329.7 510.0,329.6 511.1,329.5 512.1,329.5 513.2,329.4 514.3,328.4 515.3,328.3 516.4,329.5 517.5,329.1 518.5,329.1 519.6,329.0 520.4,326.0 521.0,320.0 521.6,310.0 522.4,305.0 523.2,314.0 524.0,308.0 525.0,303.0 525.6,303.6 526.4,314.0 528.0,322.0 530.0,327.0 533.0,329.4 534.0,329.3 535.0,329.4 536.0,329.3 537.0,329.4 538.0,329.1 539.0,330.1 540.0,328.9 541.0,329.1 542.0,329.2 543.0,328.7 544.0,329.5 545.0,329.0 546.0,329.6 547.0,328.7 548.0,330.0 549.0,329.6 550.0,329.6 551.0,330.1 552.0,329.6 553.0,329.6 554.0,330.4 555.0,329.7 556.0,329.7 557.0,330.0 558.0,329.6 559.0,328.9 560.0,329.5 561.0,328.8 562.0,329.8 563.0,329.8 564.0,329.5 565.0,329.3 566.0,329.8 567.0,329.4 568.0,328.8 569.0,329.9 570.0,330.0 571.0,329.0 572.0,330.4 573.0,329.7 574.0,330.6 575.0,329.6 576.0,329.9 577.0,329.8 578.0,330.3 579.0,330.6 580.0,330.4 581.0,330.4 582.0,330.5 583.0,330.5 584.0,330.6 585.0,330.6 586.0,330.7 587.0,331.0 588.0,330.7 589.0,330.0 590.0,330.8 591.0,330.0 592.0,330.9 593.0,331.0 594.0,331.0 595.0,331.1 596.0,331.1 597.0,330.6 598.0,331.3 599.0,331.4 600.0,331.4 601.0,331.5 602.0,331.6 603.0,331.6 604.0,331.7 605.0,331.8 606.0,331.8 607.0,331.5 608.0,332.0 609.0,331.2 610.0,332.2 611.0,332.4 612.0,332.5 613.0,332.6 614.0,332.7 615.0,332.8 616.0,332.9 617.0,333.0 618.0,333.2 619.0,333.3 620.0,333.4 621.0,332.7 622.0,333.5 623.0,332.9 624.0,333.0 625.0,333.9 626.0,334.4 627.0,334.8 628.0,334.3 629.0,334.4 630.0,334.5 631.0,334.4 632.0,333.9 633.0,335.3 634.0,334.9 635.0,334.3 636.0,335.2 637.0,335.3 638.0,334.8 639.0,335.9 640.0,335.6 641.0,334.7 642.0,334.7 643.0,335.9 644.0,335.5 645.0,336.1 646.0,336.2 647.0,336.5 648.0,335.4 649.0,335.9 650.0,336.0 651.0,336.7 652.0,335.9 653.0,336.9 654.0,337.0 655.0,337.1 656.0,336.2 657.0,337.3 658.0,336.9 659.0,337.8 660.0,337.6 661.0,337.3 662.0,338.5 663.0,337.0 664.0,338.0 665.0,337.0 666.0,338.1 667.0,338.2 668.0,337.9 669.0,339.3 670.0,338.5 671.0,339.0 672.0,338.6 673.0,337.9 674.0,337.8 675.0,338.7 676.0,339.0 677.0,338.7 678.0,339.2 679.0,339.3 680.0,339.4 681.0,339.5 682.0,339.6 683.0,339.7 684.0,339.8 685.0,339.9 686.0,340.0 687.0,339.3 688.0,340.9 689.0,340.3 690.0,340.3 691.0,340.5 692.0,340.1 693.0,341.0 694.0,340.8 695.0,340.9 696.0,340.3 697.0,341.6 698.0,341.3 699.0,341.1 700.0,341.4 701.0,341.5 702.0,341.8 703.0,341.7 704.0,341.8 705.0,342.1 706.0,342.0 707.0,342.3 708.0,342.0 709.0,342.4 710.0,342.5 711.0,342.6 712.0,343.1 713.0,342.8 714.0,343.2 715.0,342.7 716.0,343.2 717.0,342.7 718.0,343.4 719.0,343.5 720.0,343.6 721.0,343.4 722.0,343.4 723.0,344.7 724.0,344.0 725.0,344.1 726.0,344.2 727.0,344.3 728.0,344.4 729.0,345.0 730.0,344.2 731.0,344.7 732.0,344.8 733.0,344.9 734.0,345.0 735.0,345.0 736.0,344.6 737.0,345.3 738.0,345.4 739.0,345.5 740.0,345.6 741.1,345.7 742.1,345.7 743.2,346.2 744.2,344.9 745.3,344.8 746.3,345.9 747.4,346.1 748.5,345.3 749.5,346.1 750.6,346.0 751.6,346.1 752.7,346.2 753.8,346.2 754.8,346.5 755.8,346.3 756.8,346.0 757.9,347.2 758.9,346.4 759.9,346.4 761.0,346.7 762.0,345.4 763.0,346.5 764.1,346.6 765.1,347.2 766.1,346.8 767.2,346.6 768.2,346.6 769.2,346.6 770.3,347.1 771.3,346.7 772.3,345.9 773.4,346.8 774.4,346.8 775.4,345.8 776.5,347.6 777.5,346.9 780.6,345.0 782.5,342.2 784.4,345.6 786.2,347.0 787.3,346.8 788.3,347.1 789.3,346.1 790.3,347.4 791.3,346.8 792.3,347.3 793.4,347.4 794.4,347.0 795.4,346.4 796.4,347.5 797.4,347.2 798.4,347.7 799.5,347.7 800.5,347.8 801.5,347.8 802.5,347.9 803.5,348.0 804.5,348.3 805.5,348.2 806.5,348.3 807.6,347.7 808.6,348.9 809.6,348.8 810.6,348.8 811.0,350.0" fill="none" stroke="#000000" stroke-width="1" stroke-linejoin="round" shape-rendering="crispEdges"/>
<line x1="61" y1="349.5" x2="75" y2="349.5" stroke="#000" stroke-width="1" shape-rendering="crispEdges"/>
<line x1="76" y1="349.5" x2="120" y2="349.5" stroke="#000" stroke-width="1" stroke-dasharray="1.5 1 4 1 3 1.5 1 1 2 1 1 1.5 4 1 1 1 1 1.5 1 3 2 3.5" shape-rendering="crispEdges"/>
<line x1="871.5" y1="190" x2="871.5" y2="222" stroke="#46611c" stroke-width="1" shape-rendering="crispEdges"/>
<line x1="322.5" y1="6" x2="322.5" y2="240" stroke="#000" stroke-width="1" shape-rendering="crispEdges"/>
<text x="562.3" y="35" font-family="'DejaVu Sans','Liberation Sans',sans-serif" font-size="12.8" fill="#556b2f">Sun, 42°, UVI 3.7, 116 000 lx (ASTM)</text>
<text x="59.4" y="290" font-family="'DejaVu Sans','Liberation Sans',sans-serif" font-size="12.8" fill="#000">Lamp scaled to</text>
<text x="59.4" y="303" font-family="'DejaVu Sans','Liberation Sans',sans-serif" font-size="12.8" fill="#000">UVI 8.4</text>
<text x="59.4" y="316" font-family="'DejaVu Sans','Liberation Sans',sans-serif" font-size="12.8" fill="#000">9932 lx</text>
<text x="59.6" y="368" text-anchor="middle" font-family="'DejaVu Sans','Liberation Sans',sans-serif" font-size="11" fill="#545454">250</text>
<text x="130.4" y="368" text-anchor="middle" font-family="'DejaVu Sans','Liberation Sans',sans-serif" font-size="11" fill="#545454">300</text>
<text x="201.1" y="368" text-anchor="middle" font-family="'DejaVu Sans','Liberation Sans',sans-serif" font-size="11" fill="#545454">350</text>
<text x="271.9" y="368" text-anchor="middle" font-family="'DejaVu Sans','Liberation Sans',sans-serif" font-size="11" fill="#545454">400</text>
<text x="342.7" y="368" text-anchor="middle" font-family="'DejaVu Sans','Liberation Sans',sans-serif" font-size="11" fill="#545454">450</text>
<text x="413.4" y="368" text-anchor="middle" font-family="'DejaVu Sans','Liberation Sans',sans-serif" font-size="11" fill="#545454">500</text>
<text x="484.2" y="368" text-anchor="middle" font-family="'DejaVu Sans','Liberation Sans',sans-serif" font-size="11" fill="#545454">550</text>
<text x="555.0" y="368" text-anchor="middle" font-family="'DejaVu Sans','Liberation Sans',sans-serif" font-size="11" fill="#545454">600</text>
<text x="625.8" y="368" text-anchor="middle" font-family="'DejaVu Sans','Liberation Sans',sans-serif" font-size="11" fill="#545454">650</text>
<text x="696.5" y="368" text-anchor="middle" font-family="'DejaVu Sans','Liberation Sans',sans-serif" font-size="11" fill="#545454">700</text>
<text x="767.3" y="368" text-anchor="middle" font-family="'DejaVu Sans','Liberation Sans',sans-serif" font-size="11" fill="#545454">750</text>
<text x="838.1" y="368" text-anchor="middle" font-family="'DejaVu Sans','Liberation Sans',sans-serif" font-size="11" fill="#545454">800</text>
<text x="908.8" y="368" text-anchor="middle" font-family="'DejaVu Sans','Liberation Sans',sans-serif" font-size="11" fill="#545454">850</text>
<text x="979.6" y="368" text-anchor="middle" font-family="'DejaVu Sans','Liberation Sans',sans-serif" font-size="11" fill="#545454">900</text>
<text x="979.6" y="385" text-anchor="end" font-family="'DejaVu Sans','Liberation Sans',sans-serif" font-size="11.3" fill="#444">wavelength λ [nm]</text>
<text transform="translate(13,182) rotate(-90)" text-anchor="middle" font-family="'DejaVu Sans','Liberation Sans',sans-serif" font-size="11.3" fill="#444">spectral irradiance [µW/cm²/nm]</text>
<text x="20.3" y="390" font-family="'DejaVu Sans Mono','Liberation Mono',monospace" font-size="13.2" fill="#00008b">BGE2 (GE Reptilegrow 18W)</text>
</svg>
</body></html>
